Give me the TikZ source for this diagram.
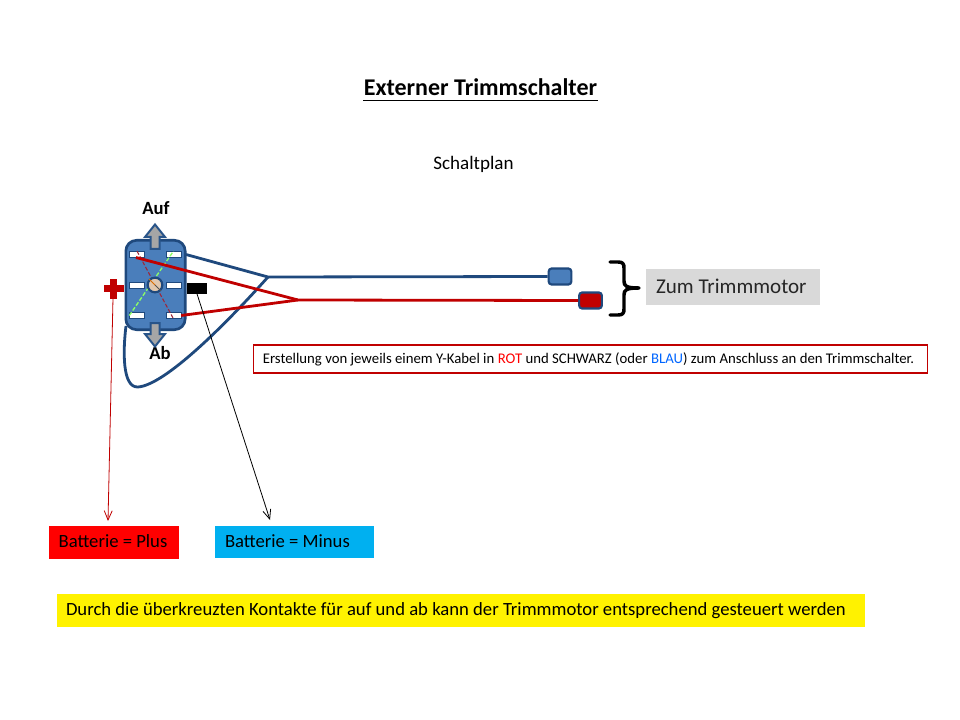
\documentclass[tikz,border=0pt]{standalone}
\usepackage{fontspec}
\setmainfont{Carlito}
\usetikzlibrary{arrows.meta}
\definecolor{bluefill}{HTML}{4A7EBB}
\definecolor{blueline}{HTML}{1F497D}
\definecolor{wirered}{HTML}{C00000}
\definecolor{graybox}{HTML}{D9D9D9}
\definecolor{cyanbox}{HTML}{00B0F0}
\definecolor{armgray}{HTML}{A6A6A6}
\tikzset{
  px/.style={x=0.75pt,y=-0.75pt},
  txt/.style={inner sep=0pt,outer sep=0pt,anchor=base,text=black},
  contact/.style={draw=blueline,line width=.5pt,fill=white,minimum width=11pt,minimum height=4.6pt,inner sep=0pt},
  bluewire/.style={draw=blueline,line width=2.1pt,line join=miter},
  redwire/.style={draw=wirered,line width=2.1pt,line join=miter},
  flatbox/.style={draw=none,inner sep=0pt,outer sep=0pt},
  lug/.style={draw=blueline,line width=1.6pt,rounded corners=2.2pt,inner sep=0pt,minimum width=17pt,minimum height=12pt},
  swarrow/.style={draw=blueline!80!bluefill,line width=1.5pt,fill=armgray,line join=miter},
}
\begin{document}
\begin{tikzpicture}[px]
\useasboundingbox (0,0) rectangle (960,720);
\fill[white] (0,0) rectangle (960,720);

% texts at top
\node[txt,font=\bfseries\fontsize{18}{20}\selectfont] (title) at (480.5,96) {Externer Trimmschalter};
\draw[black,line width=1pt] (363,100.5) -- (598,100.5);
\node[txt,font=\fontsize{14.3}{16}\selectfont] (plan) at (473.5,169.5) {Schaltplan};
\node[txt,font=\bfseries\fontsize{14}{16}\selectfont] (auf) at (156,214.5) {Auf};
\node[txt,font=\bfseries\fontsize{14}{16}\selectfont] (ab) at (160,359) {Ab};

% wire from lower-left under the switch
\coordinate (yblue) at (268,277);
\coordinate (yred) at (298,300);
\node[lug,fill=bluefill] (lugblue) at (560,276.5) {};
\node[lug,fill=wirered] (lugred) at (590.5,300.5) {};

\draw[bluewire] (yblue) .. controls (225,325) and (165,385) .. (138,387)
   .. controls (122,388) and (123,350) .. (126,326);

% switch body
\node[draw=blueline,line width=2pt,fill=bluefill,rounded corners=8pt,inner sep=0pt,
      minimum width=44.5pt,minimum height=67pt] (body) at (155.5,285) {};

% contacts
\node[contact] (c1) at (137,254.5) {};
\node[contact] (c2) at (173.5,254.5) {};
\node[contact] (c3) at (137,285) {};
\node[contact] (c4) at (173.5,285) {};
\node[contact] (c5) at (137,315.5) {};
\node[contact] (c6) at (173.5,315.5) {};

% crossed links
\draw[draw=wirered!70!bluefill,line width=.8pt,dash pattern=on 3pt off 1.5pt] (c1.north) -- (c6.south);
\draw[draw=green!75!yellow!60!white,line width=1pt,dash pattern=on 3pt off 1.5pt] (c5.west) -- (c2.north);

% pivot
\node[circle,draw=blueline,line width=1.6pt,fill=graybox!80!orange,minimum size=11pt,inner sep=0pt] (pivot) at (155,285) {};
\draw[orange!85!black,line width=.7pt] (pivot.north west) -- (pivot.center);
\draw[armgray!50!black,line width=.6pt] (pivot.center) -- (pivot.south east);

% arrows of the switch
\draw[swarrow] (155,224.5) -- (165,237) -- (159.5,237) -- (159.5,249) -- (150.5,249) -- (150.5,237) -- (145,237) -- cycle;
\draw[swarrow] (155,346.5) -- (165,334) -- (159.5,334) -- (159.5,323) -- (150.5,323) -- (150.5,334) -- (145,334) -- cycle;

% wires
\draw[bluewire] (186,254.5) -- (yblue) -- (lugblue.west);
\draw[redwire] (136,257.5) -- (yred) -- (lugred.west);
\draw[redwire] (c6.east) -- (yred);

% minus lug and plus
\node[flatbox,fill=black,minimum width=15pt,minimum height=8pt] (minus) at (197,288.5) {};
\fill[wirered] (104,285.5) rectangle (124,292.5);
\fill[wirered] (110,279) rectangle (117,299);
\coordinate (plus) at (113,298);

% brace
\draw[black,line width=2.6pt,line join=round,line cap=round]
  (610,262) -- (618,262) .. controls (623,262) and (624,264) .. (624,268) -- (624,281)
  .. controls (624,286) and (626,288) .. (639,288)
  .. controls (626,288) and (624,290) .. (624,295) -- (624,309)
  .. controls (624,313) and (623,315) .. (618,315) -- (610,315);

% Zum Trimmmotor
\node[flatbox,fill=graybox,minimum width=130.5pt,minimum height=27pt] (zum) at (733,287) {};
\node[txt,anchor=base west,font=\fontsize{15.8}{18}\selectfont,text=black!85] (zumt) at (656,294) {Zum Trimmmotor};

% note box
\node[draw=wirered,line width=.8pt,fill=white,minimum width=506pt,minimum height=21pt,inner sep=0pt] (note) at (590.5,359) {};
\node[txt,font=\fontsize{11.07}{13}\selectfont] (notet) at (588.5,363.5) {Erstellung von jeweils einem Y-Kabel in \textcolor{red}{ROT} und SCHWARZ (oder \textcolor{blue!60!cyan}{BLAU}) zum Anschluss an den Trimmschalter.};

% battery boxes
\node[flatbox,fill=red,minimum width=97.5pt,minimum height=24.5pt] (bplus) at (114,542.5) {};
\node[txt,font=\fontsize{14}{16}\selectfont] (bplust) at (113,547.5) {Batterie = Plus};
\node[flatbox,fill=cyanbox,minimum width=119.5pt,minimum height=24pt] (bminus) at (294.5,542) {};
\node[txt,anchor=base west,font=\fontsize{14}{16}\selectfont] (bminust) at (225,547.5) {Batterie = Minus};

% leader arrows
\coordinate (aplus) at (108,521);
\coordinate (aminus) at (270,520);
\draw[draw=wirered,line width=.6pt,-{Straight Barb[length=7pt,width=6pt]}] (plus) -- (aplus);
\draw[draw=black,line width=.6pt,-{Straight Barb[length=7pt,width=6pt]}] (minus.south) -- (aminus);

% yellow note
\node[flatbox,fill=yellow,minimum width=606pt,minimum height=25pt] (yel) at (461,610.5) {};
\node[txt,anchor=base west,font=\fontsize{14}{16}\selectfont] (yelt) at (66,615.5) {Durch die überkreuzten Kontakte für auf und ab kann der Trimmmotor entsprechend gesteuert werden};
\end{tikzpicture}
\end{document}
